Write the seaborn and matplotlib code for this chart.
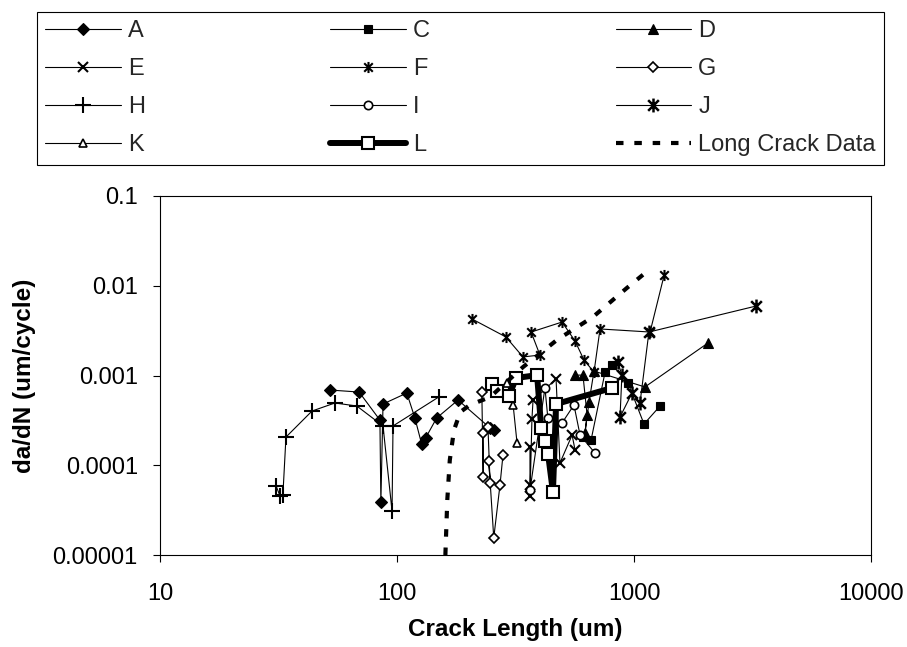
import numpy as np
import pandas as pd
import matplotlib
matplotlib.use("Agg")
import matplotlib.pyplot as plt
from matplotlib.path import Path
from matplotlib.ticker import FixedLocator, FixedFormatter, NullLocator
import seaborn as sns

# crack length (um) / growth rate (um/cycle)
a_len = [52.1, 69.2, 84.7, 85.5, 87.3, 110, 119, 127, 132, 147, 181, 247, 256]
a_rate = [6.89e-4, 6.54e-4, 3.19e-4, 3.90e-5, 4.81e-4, 6.38e-4, 3.36e-4, 1.73e-4, 2.01e-4, 3.36e-4, 5.33e-4, 2.60e-4, 2.47e-4]

c_len = [609, 659, 755, 808, 944, 1102, 1288]
c_rate = [2.06e-4, 1.91e-4, 1.09e-3, 1.31e-3, 8.24e-4, 2.88e-4, 4.57e-4]

d_len = [564, 609, 634, 621, 646, 678, 1112, 2051]
d_rate = [1.01e-3, 1.01e-3, 3.63e-4, 2.29e-4, 5.07e-4, 1.12e-3, 7.45e-4, 2.30e-3]

e_len = [364, 364, 364, 371, 375, 469, 487, 548, 564]
e_rate = [1.60e-4, 6.03e-5, 4.54e-5, 3.28e-4, 5.33e-4, 9.14e-4, 1.06e-4, 2.17e-4, 1.48e-4]

f_len = [207, 288, 340, 401, 368, 497, 564, 615, 678, 719, 1169, 1341]
f_rate = [4.27e-3, 2.69e-3, 1.61e-3, 1.69e-3, 3.05e-3, 3.94e-3, 2.42e-3, 1.49e-3, 1.09e-3, 3.30e-3, 3.05e-3, 1.32e-2]

g_len = [228, 231, 231, 242, 247, 244, 256, 272, 280]
g_rate = [6.54e-4, 7.39e-5, 2.29e-4, 2.67e-4, 6.34e-5, 1.11e-4, 1.55e-5, 6.03e-5, 1.30e-4]

h_len = [30.9, 32.1, 33.0, 34.0, 43.8, 54.7, 67.7, 87.3, 95.3, 96.2, 150]
h_rate = [5.87e-5, 4.54e-5, 4.65e-5, 2.06e-4, 4.02e-4, 4.94e-4, 4.57e-4, 2.74e-4, 3.09e-5, 2.74e-4, 5.76e-4]

i_len = [364, 421, 433, 497, 558, 592, 684]
i_rate = [5.30e-5, 7.26e-4, 3.36e-4, 2.96e-4, 4.69e-4, 2.17e-4, 1.37e-4]

j_len = [855, 889, 873, 981, 1060, 1156, 3273]
j_rate = [1.41e-3, 1.01e-3, 3.45e-4, 6.38e-4, 4.94e-4, 3.05e-3, 5.94e-3]

k_len = [291, 309, 321]
k_rate = [8.24e-4, 4.69e-4, 1.77e-4]

l_len = [252, 264, 297, 318, 390, 406, 421, 434, 455, 469, 808]
l_rate = [8.04e-4, 6.72e-4, 5.91e-4, 9.38e-4, 1.01e-3, 2.60e-4, 1.86e-4, 1.33e-4, 5.03e-5, 4.81e-4, 7.26e-4]

long_len = [160, 163, 167, 174, 185, 203, 247, 340, 473, 671, 933, 1169]
long_rate = [1.0e-5, 4.1e-5, 1.14e-4, 2.47e-4, 3.92e-4, 4.69e-4, 5.75e-4, 1.24e-3, 2.49e-3, 4.49e-3, 9.44e-3, 1.54e-2]

x_ticks = [10, 100, 1000, 10000]
x_labels = ["10", "100", "1000", "10000"]
y_ticks = [1e-5, 1e-4, 1e-3, 1e-2, 1e-1]
y_labels = ["0.00001", "0.0001", "0.001", "0.01", "0.1"]

sns.set_theme(style="ticks")
plt.rcParams["font.family"] = ["Liberation Sans", "DejaVu Sans"]

# excel style star: an X with a vertical bar
star = Path([(-1, -1), (1, 1), (-1, 1), (1, -1), (0, -1.3), (0, 1.3)],
            [Path.MOVETO, Path.LINETO, Path.MOVETO, Path.LINETO, Path.MOVETO, Path.LINETO])

series = [
    ("A", a_len, a_rate, dict(marker="D", ms=6, mfc="black", mew=0.8)),
    ("C", c_len, c_rate, dict(marker="s", ms=6, mfc="black", mew=0.8)),
    ("D", d_len, d_rate, dict(marker="^", ms=7, mfc="black", mew=0.8)),
    ("E", e_len, e_rate, dict(marker="x", ms=7, mew=1.5)),
    ("F", f_len, f_rate, dict(marker=star, ms=8, mew=1.5)),
    ("G", g_len, g_rate, dict(marker="D", ms=5, mfc="white", mew=1.2)),
    ("H", h_len, h_rate, dict(marker="+", ms=11, mew=1.5)),
    ("I", i_len, i_rate, dict(marker="o", ms=6, mfc="white", mew=1.2)),
    ("J", j_len, j_rate, dict(marker=star, ms=10, mew=1.8)),
    ("K", k_len, k_rate, dict(marker="^", ms=6, mfc="white", mew=1.2)),
    ("L", l_len, l_rate, dict(marker="s", ms=9, mfc="white", mew=1.5, lw=4.3)),
]

fig = plt.figure(figsize=(9.07, 6.47), dpi=100)
ax = fig.add_axes([160 / 907, 1 - 555 / 647, 711 / 907, 359 / 647])

for name, xs, ys, style in series:
    lw = style.pop("lw", 0.8)
    sns.lineplot(x=xs, y=ys, ax=ax, sort=False, estimator=None, color="black",
                 mec="black", lw=lw, label=name, **style)

sns.lineplot(x=long_len, y=long_rate, ax=ax, sort=False, estimator=None, color="black",
             lw=3, linestyle=(0, (1.8, 2.6)), label="Long Crack Data")

ax.set_xscale("log")
ax.set_yscale("log")
ax.set_xlim(10, 10000)
ax.set_ylim(1e-5, 0.1)
ax.xaxis.set_major_locator(FixedLocator(x_ticks))
ax.xaxis.set_major_formatter(FixedFormatter(x_labels))
ax.yaxis.set_major_locator(FixedLocator(y_ticks))
ax.yaxis.set_major_formatter(FixedFormatter(y_labels))
ax.xaxis.set_minor_locator(NullLocator())
ax.yaxis.set_minor_locator(NullLocator())
ax.tick_params(axis="both", direction="out", length=5, width=0.8, color="black",
               labelsize=17, labelcolor="black")
ax.tick_params(axis="x", pad=15)
ax.tick_params(axis="y", pad=11)
for sp in ax.spines.values():
    sp.set_visible(True)
    sp.set_color("black")
    sp.set_linewidth(0.8)

ax.set_xlabel("Crack Length (um)", fontsize=17.5, fontweight="bold", color="black")
ax.set_ylabel("da/dN (um/cycle)", fontsize=17.5, fontweight="bold", color="black")
ax.xaxis.set_label_coords(0.5, (555 - 618) / 359)
ax.yaxis.set_label_coords((36 - 160) / 711, 0.5)

handles, labels = ax.get_legend_handles_labels()
ax.get_legend().remove()
# legend fills column by column, so reorder to read A C D / E F G / ...
order = [0, 3, 6, 9, 1, 4, 7, 10, 2, 5, 8, 11]
leg = fig.legend([handles[i] for i in order], [labels[i] for i in order],
                 loc="upper left", bbox_to_anchor=(37 / 907, 1 - 12 / 647, 847 / 907, 0),
                 mode="expand", ncol=3, fontsize=17, frameon=True, fancybox=False,
                 edgecolor="black", framealpha=1, borderpad=0.35, labelspacing=0.68,
                 handlelength=3.2, handletextpad=0.3, borderaxespad=0)
leg.get_frame().set_linewidth(0.8)

fig.savefig("out.png", dpi=100)
